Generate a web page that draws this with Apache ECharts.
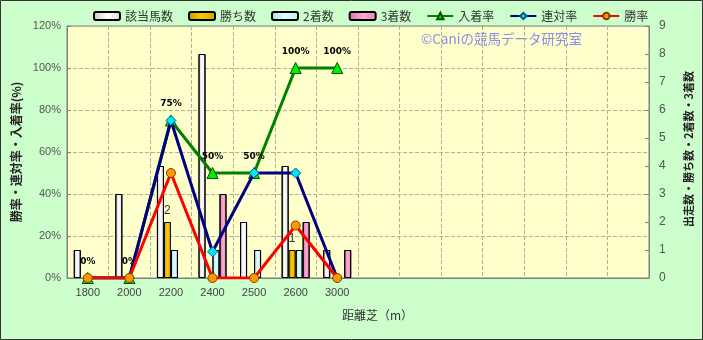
<!DOCTYPE html>
<html><head><meta charset="utf-8">
<script src="https://cdn.jsdelivr.net/npm/echarts@6/dist/echarts.min.js"></script>
<style>html,body{margin:0;padding:0;background:#ccffcc;}#c{width:703px;height:340px;}</style>
</head><body><div id="c"></div>
<script>
const categories = ['1800','2000','2200','2400','2500','2600','3000','','','','','','',''];
const runners = [1,3,4,8,2,4,1];
const wins = [0,0,2,0,0,1,0];
const seconds = [0,0,1,1,1,1,0];
const thirds = [0,0,0,3,0,2,1];
const placeRate = [0,0,75,50,50,100,100];
const rentaiRate = [0,0,75,12.5,50,50,0];
const winRate = [0,0,50,0,0,25,0];
const leftTicks = [0,20,40,60,80,100,120];
const rightTicks = [0,1,2,3,4,5,6,7,8,9];

const chart = echarts.init(document.getElementById('c'));
function grad(a,b,c){return new echarts.graphic.LinearGradient(0,0,1,0,[{offset:0,color:a},{offset:0.5,color:b},{offset:1,color:c}]);}
function nz(arr){return arr.map(v=>v===0?'-':v);}
const font = 'Noto Sans CJK JP';
const barBase = {type:'bar', yAxisIndex:1, barWidth:7, barGap:'0%'};
chart.setOption({
  backgroundColor:'#ccffcc',
  textStyle:{fontFamily:font},
  graphic:[
    {type:'rect', shape:{x:0.5,y:0.5,width:702,height:339}, style:{fill:'none',stroke:'#333',lineWidth:1}, z:100},
    {type:'text', left:421, top:32, style:{text:'©Caniの競馬データ研究室', fill:'#8c8ce6', font:'13.5px "Noto Sans CJK JP"'}, z:100},
    {type:'text', left:342, top:309, style:{text:'距離芝（m）', fill:'#333', font:'12px "Noto Sans CJK JP"'}}
  ],
  legend:{
    left:93, top:10, padding:0, itemWidth:26, itemHeight:8, itemGap:15,
    textStyle:{fontSize:12, color:'#333', fontFamily:font},
    data:['該当馬数','勝ち数','2着数','3着数','入着率','連対率','勝率']
  },
  grid:{left:67, right:54, top:26, bottom:62, show:true, backgroundColor:'#ffffcc', borderColor:'#808080', borderWidth:1},
  xAxis:{
    type:'category', data:categories,
    axisLine:{lineStyle:{color:'#808080'}}, axisTick:{show:false},
    axisLabel:{color:'#444', fontSize:11, margin:9, interval:0, fontFamily:'Liberation Sans'},
    splitLine:{show:true, interval:0, lineStyle:{color:'#b0b0a0', type:'dashed'}}
  },
  yAxis:[
    {type:'value', min:0, max:120, interval:20, position:'left',
     name:'勝率・連対率・入着率(%)', nameLocation:'middle', nameRotate:90, nameGap:40,
     nameTextStyle:{fontSize:12, fontWeight:'bold', color:'#222', fontFamily:font},
     axisLine:{show:true, lineStyle:{color:'#808080'}}, axisTick:{show:true, inside:true, length:4, lineStyle:{color:'#808080'}},
     axisLabel:{color:'#555', fontSize:11, margin:6, formatter:'{value}%', fontFamily:'Liberation Sans'},
     splitLine:{show:true, lineStyle:{color:'#b0b0a0', type:'dashed'}}},
    {type:'value', min:0, max:9, interval:1, position:'right',
     name:'出走数・勝ち数・2着数・3着数', nameLocation:'middle', nameRotate:90, nameGap:34,
     nameTextStyle:{fontSize:11, fontWeight:'bold', color:'#222', fontFamily:font, padding:[0,0,0,6]},
     axisLine:{show:true, lineStyle:{color:'#808080'}}, axisTick:{show:true, inside:true, length:4, lineStyle:{color:'#808080'}},
     axisLabel:{color:'#555', fontSize:12, margin:10, fontFamily:'Liberation Sans'},
     splitLine:{show:false}}
  ],
  series:[
    Object.assign({}, barBase, {name:'該当馬数', data:nz(runners), itemStyle:{color:grad('#c8c8c8','#ffffff','#d8d8d8'),borderColor:'#000',borderWidth:1}}),
    Object.assign({}, barBase, {name:'勝ち数', data:nz(wins), itemStyle:{color:grad('#c89600','#ffcc00','#d4a000'),borderColor:'#000',borderWidth:1},
      label:{show:true, position:'top', distance:5, color:'#333', fontSize:12, fontFamily:'Liberation Sans'}}),
    Object.assign({}, barBase, {name:'2着数', data:nz(seconds), itemStyle:{color:grad('#a8dce8','#e0ffff','#b8e8f0'),borderColor:'#000',borderWidth:1}}),
    Object.assign({}, barBase, {name:'3着数', data:nz(thirds), itemStyle:{color:grad('#d070a8','#ffaad4','#e088bb'),borderColor:'#000',borderWidth:1}}),
    {name:'入着率', type:'line', yAxisIndex:0, data:placeRate, z:5,
     lineStyle:{color:'#008000', width:3}, symbol:'triangle', symbolSize:11,
     itemStyle:{color:'#00ee00', borderColor:'#005000', borderWidth:1},
     label:{show:true, position:'top', distance:6, color:'#000', fontSize:9, fontWeight:'bold', fontFamily:'DejaVu Sans', formatter:'{c}%'}},
    {name:'連対率', type:'line', yAxisIndex:0, data:rentaiRate, z:6,
     lineStyle:{color:'#000080', width:3}, symbol:'diamond', symbolSize:10,
     itemStyle:{color:'#00e5ff', borderColor:'#006080', borderWidth:1}},
    {name:'勝率', type:'line', yAxisIndex:0, data:winRate, z:7,
     lineStyle:{color:'#ff0000', width:3}, symbol:'circle', symbolSize:9,
     itemStyle:{color:'#ff9900', borderColor:'#804000', borderWidth:1}}
  ]
});
</script></body></html>
